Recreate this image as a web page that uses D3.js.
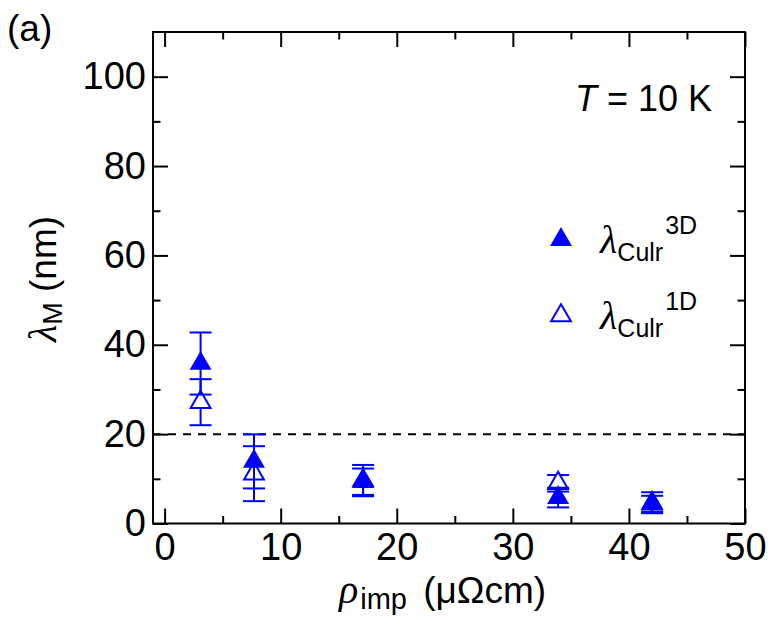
<!DOCTYPE html>
<html>
<head>
<meta charset="utf-8">
<script src="https://cdn.jsdelivr.net/npm/d3@7"></script>
<style>
  html, body { margin: 0; padding: 0; background: #fff; }
  svg { display: block; }
  text { font-family: "Liberation Sans", Arial, sans-serif; fill: #000; }
</style>
</head>
<body>
<svg id="chart" width="774" height="632"></svg>
<script>
// Impurity resistivity (μΩcm) of each sample
const rhoImp = [3.1, 7.7, 17.1, 33.9, 42.0];
// Mean free path from the 3D model (nm) and its uncertainty
const lambda3D = [35.8, 13.9, 9.35, 5.8, 4.65];
const err3D = [6.95, 6.05, 2.95, 2.2, 2.35];
// Mean free path from the 1D model (nm) and its uncertainty
const lambda1D = [27.15, 11.15, 9.6, 9.0, 4.4];
const err1D = [5.15, 6.15, 3.5, 1.85, 1.8];
// Reference level drawn as a dashed line (nm)
const refLevel = 20;
// Axis ticks
const xMajor = [0, 10, 20, 30, 40, 50];
const xMinor = [5, 15, 25, 35, 45];
const yMajor = [0, 20, 40, 60, 80, 100];
const yMinor = [10, 30, 50, 70, 90];

const svg = d3.select("#chart");
const plotL = 153, plotR = 745, plotT = 32, plotB = 523.5;
const x = d3.scaleLinear().domain([-1, 50]).range([plotL, plotR]);
const y = d3.scaleLinear().domain([0, 110]).range([plotB, plotT]);
const blue = "#0000ff";
const serifItalic = t => t.style("font-family", "'Liberation Serif', serif").style("font-style", "italic");

// Axes: inward ticks on all four sides
function styleAxis(g) {
  g.select(".domain").remove();
  g.selectAll(".tick line").attr("stroke", "#000").attr("stroke-width", 2);
  g.selectAll(".tick text").style("font-family", "'Liberation Sans', Arial, sans-serif")
    .style("font-size", "38px").attr("fill", "#000");
}
svg.append("g").attr("transform", `translate(0,${plotB})`)
  .call(d3.axisBottom(x).tickValues(xMajor).tickSizeInner(-15).tickSizeOuter(0).tickPadding(10))
  .call(styleAxis);
svg.append("g").attr("transform", `translate(0,${plotB})`)
  .call(d3.axisBottom(x).tickValues(xMinor).tickSizeInner(-7.5).tickSizeOuter(0).tickFormat(""))
  .call(styleAxis);
svg.append("g").attr("transform", `translate(0,${plotT})`)
  .call(d3.axisTop(x).tickValues(xMajor).tickSizeInner(-15).tickSizeOuter(0).tickFormat(""))
  .call(styleAxis);
svg.append("g").attr("transform", `translate(0,${plotT})`)
  .call(d3.axisTop(x).tickValues(xMinor).tickSizeInner(-7.5).tickSizeOuter(0).tickFormat(""))
  .call(styleAxis);
svg.append("g").attr("transform", `translate(${plotL},0)`)
  .call(d3.axisLeft(y).tickValues(yMajor).tickSizeInner(-15).tickSizeOuter(0).tickPadding(7))
  .call(styleAxis);
svg.append("g").attr("transform", `translate(${plotL},0)`)
  .call(d3.axisLeft(y).tickValues(yMinor).tickSizeInner(-7.5).tickSizeOuter(0).tickFormat(""))
  .call(styleAxis);
svg.append("g").attr("transform", `translate(${plotR},0)`)
  .call(d3.axisRight(y).tickValues(yMajor).tickSizeInner(-15).tickSizeOuter(0).tickFormat(""))
  .call(styleAxis);
svg.append("g").attr("transform", `translate(${plotR},0)`)
  .call(d3.axisRight(y).tickValues(yMinor).tickSizeInner(-7.5).tickSizeOuter(0).tickFormat(""))
  .call(styleAxis);

// Plot frame
svg.append("rect")
  .attr("x", plotL).attr("y", plotT)
  .attr("width", plotR - plotL).attr("height", plotB - plotT)
  .attr("fill", "none").attr("stroke", "#000").attr("stroke-width", 2);

// Dashed reference line
svg.append("line")
  .attr("x1", plotL).attr("x2", plotR)
  .attr("y1", y(refLevel)).attr("y2", y(refLevel))
  .attr("stroke", "#000").attr("stroke-width", 2)
  .attr("stroke-dasharray", "8,7");

// Markers: triangle with its centroid on the data point
const triFilled = d3.symbol().type(d3.symbolTriangle).size(208);
const triOpen = d3.symbol().type(d3.symbolTriangle).size(170);
const capHalf = 11;

function drawSeries(vals, errs, filled) {
  const g = svg.append("g");
  const pts = rhoImp.map((r, i) => ({ r, v: vals[i], e: errs[i] }));
  const eb = g.selectAll(".eb").data(pts).join("g")
    .attr("stroke", blue).attr("stroke-width", 2);
  eb.append("line")
    .attr("x1", d => x(d.r)).attr("x2", d => x(d.r))
    .attr("y1", d => y(d.v - d.e)).attr("y2", d => y(d.v + d.e));
  eb.append("line")
    .attr("x1", d => x(d.r) - capHalf).attr("x2", d => x(d.r) + capHalf)
    .attr("y1", d => y(d.v + d.e)).attr("y2", d => y(d.v + d.e));
  eb.append("line")
    .attr("x1", d => x(d.r) - capHalf).attr("x2", d => x(d.r) + capHalf)
    .attr("y1", d => y(d.v - d.e)).attr("y2", d => y(d.v - d.e));
  g.selectAll(".mk").data(pts).join("path")
    .attr("transform", d => `translate(${x(d.r)},${y(d.v)})`)
    .attr("d", filled ? triFilled() : triOpen())
    .attr("fill", filled ? blue : "#fff")
    .attr("stroke", filled ? "none" : blue)
    .attr("stroke-width", 2);
}
drawSeries(lambda1D, err1D, false);
drawSeries(lambda3D, err3D, true);

// Legend
const legendRows = [
  { y: 239.6, filled: true, sup: "3D" },
  { y: 315.6, filled: false, sup: "1D" }
];
legendRows.forEach(row => {
  svg.append("path")
    .attr("transform", `translate(561,${row.y})`)
    .attr("d", row.filled ? triFilled() : triOpen())
    .attr("fill", row.filled ? blue : "#fff")
    .attr("stroke", row.filled ? "none" : blue)
    .attr("stroke-width", 2);
  const t = svg.append("text").attr("x", 600).attr("y", row.y + 13.5);
  t.append("tspan").text("λ").call(serifItalic).style("font-size", "40px");
  t.append("tspan").text("Culr").attr("dy", 8).style("font-size", "25px");
  t.append("tspan").text(row.sup).attr("dy", -27).attr("dx", 2).style("font-size", "25px");
});

// Temperature note
svg.append("text").attr("x", 575).attr("y", 110.5).style("font-size", "36px")
  .call(t => {
    t.append("tspan").text("T").style("font-style", "italic");
    t.append("tspan").text(" = 10 K");
  });

// Panel label
svg.append("text").attr("x", 7).attr("y", 41).style("font-size", "37px").text("(a)");

// X axis title
const xt = svg.append("text").attr("x", 339).attr("y", 603).style("font-size", "37px");
xt.append("tspan").text("ρ").call(serifItalic).style("font-size", "40px");
xt.append("tspan").text("imp").attr("dy", 6).attr("dx", 2).style("font-size", "29px");
xt.append("tspan").text(" (μΩcm)").attr("dy", -6).attr("dx", 6);

// Y axis title
const yt = svg.append("text")
  .attr("transform", "translate(56,279) rotate(-90)")
  .attr("text-anchor", "middle").style("font-size", "37px");
yt.append("tspan").text("λ").call(serifItalic).style("font-size", "40px");
yt.append("tspan").text("M").attr("dy", 6).style("font-size", "27px");
yt.append("tspan").text(" (nm)").attr("dy", -6);
</script>
</body>
</html>
